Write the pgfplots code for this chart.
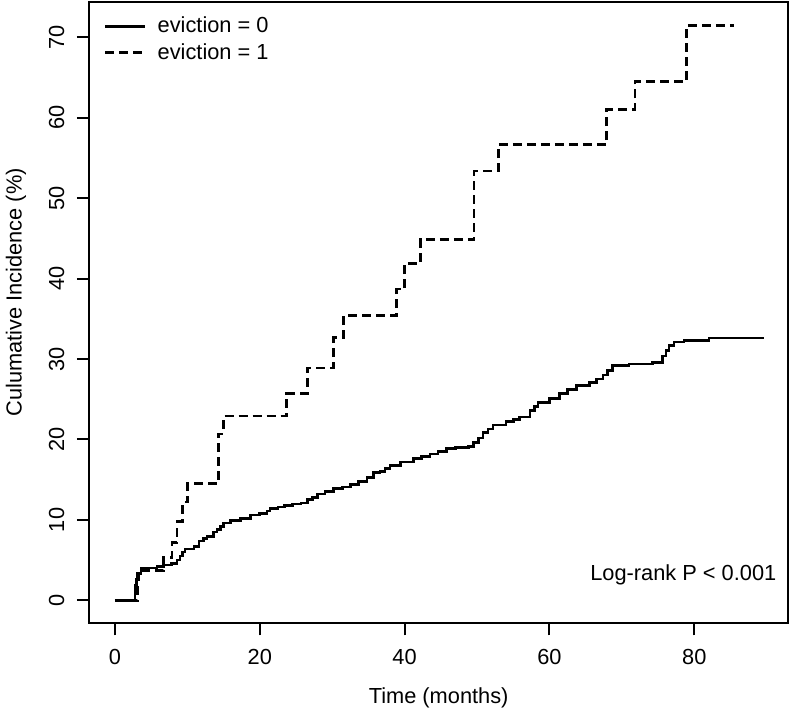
\documentclass[border=0pt]{standalone}
\usepackage{pgfplots}
\pgfplotsset{compat=1.18}
\usepackage{fontspec}
\setmainfont{Liberation Sans}

\pgfplotstableread{
x y
0 0
2.75 1.9
3.0 2.6
3.3 3.3
3.6 4.0
5.8 4.2
6.8 4.4
7.8 4.6
8.6 5.0
9.0 5.5
9.3 6.0
9.7 6.4
10.9 6.7
11.6 7.4
12.2 7.7
12.7 7.9
13.6 8.5
14.1 8.8
14.6 9.2
15.0 9.6
16.0 9.9
17.3 10.2
18.7 10.6
20.0 10.8
21.0 11.1
21.4 11.4
22.5 11.6
23.4 11.8
24.5 12.0
25.7 12.1
26.6 12.5
27.3 12.8
28.0 13.2
29.0 13.5
30.2 13.9
31.4 14.1
32.5 14.4
33.6 14.8
34.8 15.3
35.7 15.9
36.6 16.0
37.3 16.4
38.0 16.8
39.4 17.2
41.2 17.6
42.3 17.9
43.5 18.2
44.6 18.5
45.8 18.9
47.0 19.0
48.8 19.1
49.5 19.6
50.2 20.2
50.8 20.9
51.5 21.3
52.2 21.8
54.0 22.2
55.0 22.5
55.9 22.8
57.3 23.6
57.9 24.1
58.4 24.6
60.0 25.1
61.4 25.7
62.5 26.2
63.7 26.7
65.5 27.1
66.5 27.5
67.4 28.0
68.0 28.6
68.7 29.2
71.0 29.4
74.2 29.6
75.6 30.4
76.1 31.1
76.5 31.7
77.2 32.1
78.6 32.3
82.0 32.6
89.4 32.7
}\evictzero

\pgfplotstableread{
x y
0 0
3.1 3.7
6.75 5.3
7.9 7.2
8.6 9.8
9.3 12.2
10.0 14.5
14.3 20.7
15.0 22.9
23.7 25.7
26.6 28.9
30.2 32.7
31.6 35.4
38.9 38.7
40.0 41.9
42.2 44.9
49.6 53.4
53.0 56.7
67.9 61.0
71.8 64.5
78.9 71.5
85.5 71.5
}\evictone

\begin{document}
{\fontsize{10.9}{13}\selectfont
\begin{tikzpicture}
\useasboundingbox (-44.5pt,-42.85pt) rectangle (351pt,311.65pt);
\begin{axis}[
  scale only axis,
  width=349.65pt, height=310.5pt,
  xmin=-3.576, xmax=92.976,
  ymin=-2.86, ymax=74.36,
  axis line style={line width=1pt},
  xtick={0,20,40,60,80},
  ytick={0,10,20,30,40,50,60,70},
  xtick pos=left, ytick pos=left,
  tick align=outside,
  major tick length=6pt,
  every tick/.style={black, line width=1pt},
  /pgf/number format/assume math mode=true,
  yticklabel style={rotate=90, anchor=base},
  xticklabel style={anchor=base},
  xticklabel shift=14.5pt,
  yticklabel shift=6.4pt,
  xlabel={Time (months)},
  ylabel={Culumative Incidence (\%)},
  xlabel style={at={(axis description cs:0.5,-0.1288)}, anchor=base},
  ylabel style={at={(axis description cs:-0.0962,0.5329)}, anchor=base},
  legend style={draw=none, fill=none, at={(axis description cs:0,1)}, anchor=north west,
    xshift=4.35pt, yshift=-3.25pt, row sep=-0.5pt, column sep=3.5pt},
  legend cell align=left,
  legend image code/.code={\draw[#1] (0pt,0pt) -- (20pt,0pt);},
]
\addplot[const plot, black, line width=1.3pt] table[x=x,y=y] {\evictzero};
\addlegendentry{eviction = 0}
\addplot[const plot, black, line width=1.3pt, dash pattern=on 4.5pt off 2.5pt] table[x=x,y=y] {\evictone};
\addlegendentry{eviction = 1}
\node[anchor=base east, inner sep=0pt] at (axis description cs:0.9834,0.0686) {Log-rank P < 0.001};
\end{axis}
\end{tikzpicture}}
\end{document}
